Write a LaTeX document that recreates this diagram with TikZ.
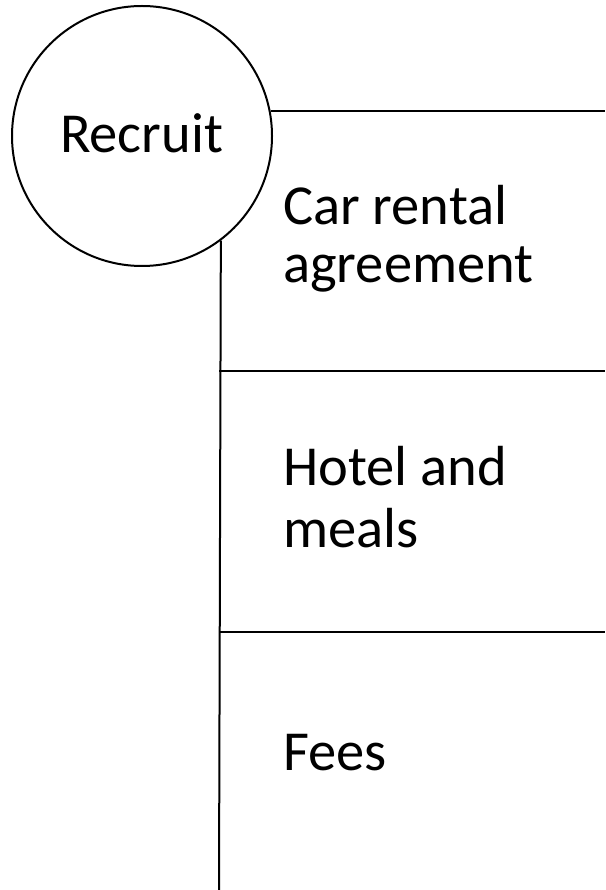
\documentclass[tikz,border=0pt]{standalone}
\usepackage{fontspec}
\setmainfont{Carlito}
\begin{document}
\begin{tikzpicture}[x=1pt,y=1pt,
  ln/.style={line width=2pt,black},
  lbl/.style={font=\fontsize{56.5}{58}\selectfont,anchor=base west,inner sep=0pt,align=left}]
\useasboundingbox[fill=white] (0,0) rectangle (605,-890);
\node[circle,draw,line width=2pt,minimum size=260pt,inner sep=0pt] (rec) at (142,-136) {};
\node[font=\fontsize{56.5}{58}\selectfont,anchor=base,inner sep=0pt] (rect) at (141.5,-153) {Recruit};
\coordinate (t1) at (605,-110);
\coordinate (h2a) at (219,-371);
\coordinate (h2b) at (605,-371);
\coordinate (h3a) at (219,-632);
\coordinate (h3b) at (605,-632);
\coordinate (vb) at (219,-890);
\draw[ln] (rec.11.6) -- (rec.11.6 -| t1);
\draw[ln] (rec.-53.7) -- (vb);
\draw[ln] (h2a) -- (h2b);
\draw[ln] (h3a) -- (h3b);
\node[lbl,font=\fontsize{56.5}{57}\selectfont] (car) at (283,-282) {Car rental\\agreement};
\node[lbl,font=\fontsize{56.5}{62}\selectfont] (hot) at (283,-547) {Hotel and\\meals};
\node[lbl] (fee) at (283,-770) {Fees};
\end{tikzpicture}
\end{document}
